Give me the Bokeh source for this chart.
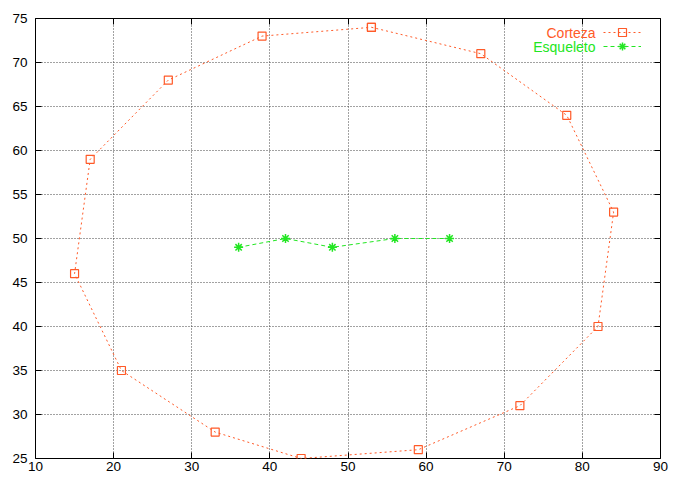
from bokeh.plotting import figure
from bokeh.models import (Range1d, FixedTicker, LinearAxis, Legend, LegendItem, Label)
from bokeh.embed import file_html
from bokeh.resources import INLINE

# Data
corteza_x = [53, 67, 78, 84, 82, 72, 59, 44, 33, 21, 15, 17, 27, 39, 53]
corteza_y = [74, 71, 64, 53, 40, 31, 26, 25, 28, 35, 46, 59, 68, 73, 74]
esqueleto_x = [36, 42, 48, 56, 63]
esqueleto_y = [49, 50, 49, 50, 50]
x_ticks = [10, 20, 30, 40, 50, 60, 70, 80, 90]
y_ticks = [25, 30, 35, 40, 45, 50, 55, 60, 65, 70, 75]
series_names = ["Corteza", "Esqueleto"]

ORANGE = "#ff5a28"
GREEN = "#22e622"
FONT = "Liberation Sans"

W, H = 669, 477
BL, BR, BT, BB = 35, 9, 18, 19

p = figure(width=W, height=H, output_backend="svg", toolbar_location=None,
           x_range=Range1d(10, 90), y_range=Range1d(25, 75),
           min_border_left=BL, min_border_right=BR, min_border_top=BT, min_border_bottom=BB)
p.background_fill_color = "white"
p.border_fill_color = "white"
p.outline_line_color = "black"
p.outline_line_width = 1

for ax in (p.xaxis[0], p.yaxis[0]):
    ax.axis_line_color = None
    ax.major_tick_in = 6
    ax.major_tick_out = 0
    ax.minor_tick_line_color = None
    ax.major_tick_line_color = "black"
    ax.major_label_text_font = FONT
    ax.major_label_text_font_size = "13.5px"
    ax.major_label_text_color = "black"
p.xaxis[0].ticker = FixedTicker(ticks=x_ticks)
p.yaxis[0].ticker = FixedTicker(ticks=y_ticks)
p.xaxis[0].major_label_standoff = 3
p.yaxis[0].major_label_standoff = 8

# mirror axes (ticks only, labels not drawn)
top = LinearAxis(ticker=FixedTicker(ticks=x_ticks))
right = LinearAxis(ticker=FixedTicker(ticks=y_ticks))
for ax in (top, right):
    ax.axis_line_color = None
    ax.major_tick_in = 6
    ax.major_tick_out = 0
    ax.minor_tick_line_color = None
    ax.major_label_text_color = None
    ax.major_label_text_font_size = "1px"
    ax.major_label_standoff = 0
p.add_layout(top, "above")
p.add_layout(right, "right")

p.xgrid.ticker = FixedTicker(ticks=x_ticks)
p.ygrid.ticker = FixedTicker(ticks=y_ticks)
p.grid.grid_line_color = "#444444"
p.grid.grid_line_dash = "1 2"
p.grid.grid_line_width = 1

r1 = p.line(corteza_x, corteza_y, line_color=ORANGE, line_width=1, line_dash="2 3")
m1 = p.scatter(corteza_x, corteza_y, marker="square", size=8, fill_color=None,
               line_color=ORANGE, line_width=1.2)
r2 = p.line(esqueleto_x, esqueleto_y, line_color=GREEN, line_width=1, line_dash="4 3")
m2 = p.scatter(esqueleto_x, esqueleto_y, marker="asterisk", size=9,
               line_color=GREEN, line_width=1.5)

frame_w = W - BL - BR
frame_h = H - BT - BB

renderer_sets = [[r1, m1], [r2, m2]]
colors = [ORANGE, GREEN]
for i, (name, col, rs) in enumerate(zip(series_names, colors, renderer_sets)):
    row_y = frame_h - 14 - 14 * i
    leg = Legend(items=[LegendItem(label=" ", renderers=rs)],
                 location=(frame_w - 19 - 38, row_y - 10),
                 glyph_width=38, glyph_height=20, spacing=0,
                 padding=0, margin=0, label_width=0, label_standoff=0,
                 label_height=0, label_text_color=None, label_text_font_size="1px",
                 background_fill_alpha=0, border_line_color=None)
    p.add_layout(leg)
    p.add_layout(Label(x=frame_w - 65, y=row_y, x_units="screen", y_units="screen",
                       text=name, text_align="right", text_baseline="middle",
                       text_color=col, text_font=FONT, text_font_size="14px"))

open("out.html", "w").write(file_html(p, INLINE))
